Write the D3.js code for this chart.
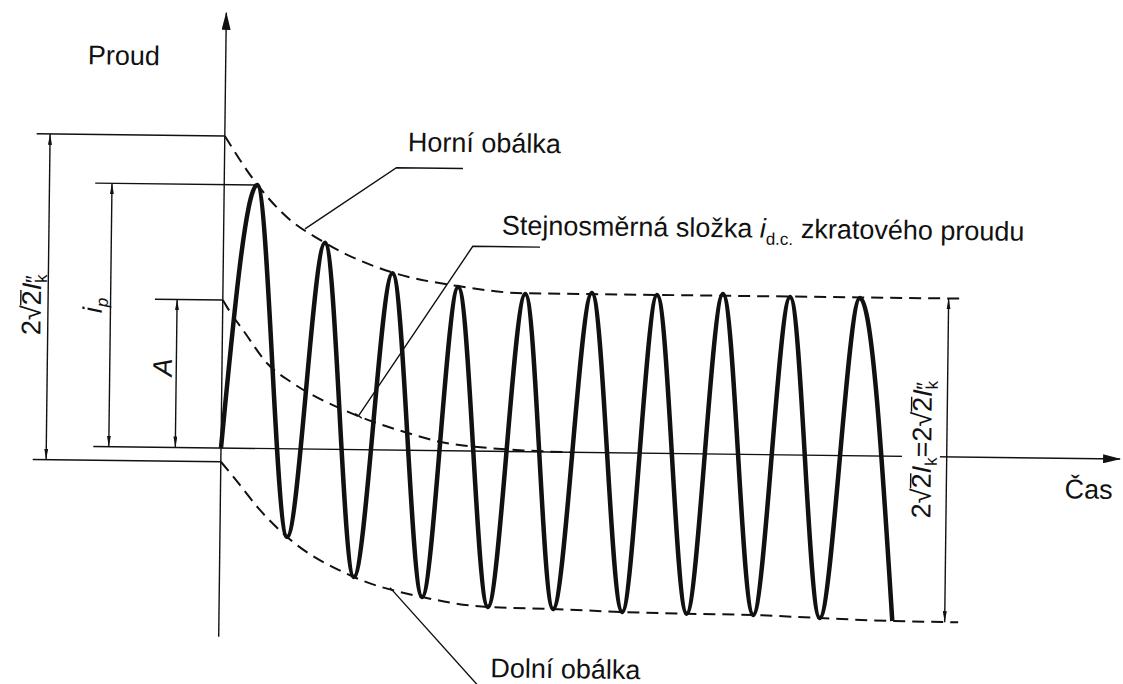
<!doctype html>
<html lang="cs">

<head>
    <meta charset="utf-8">
    <script src="https://d3js.org/d3.v7.min.js"></script>
    <style>
        body { margin: 0; background: #fff; }
        svg text { font-family: "Liberation Sans", Arial, sans-serif; fill: #111; font-size: 27px; }
    </style>
</head>

<body>
    <div id="chart"></div>
    <script>
        // time in periods of the a.c. component, current relative to the a.c. amplitude
        var waveT = [0, 0.49, 1.00, 1.51, 2.00, 2.52, 3.02, 3.50, 4.00, 4.50, 4.97, 5.49, 6.00, 6.46, 6.96, 7.44, 7.95, 8.44, 8.94, 9.48, 10.02];
        var waveV = [0, 1.646, -0.551, 1.291, -0.796, 1.105, -0.916, 1.024, -0.973, 0.986, -0.981, 0.997, -0.994, 0.989, -1.0, 1.0, -1.003, 0.987, -1.017, 0.986, -1.03];

        var upperT = [0, 0.49, 0.88, 1.51, 2.52, 3.50, 4.50, 5.49, 6.46, 7.44, 8.44, 9.48, 11.0];
        var upperV = [1.95, 1.65, 1.47, 1.29, 1.11, 1.03, 0.99, 0.99, 0.99, 0.99, 0.99, 0.99, 0.99];

        var lowerT = [0, 0.19, 0.59, 1.00, 2.00, 3.02, 4.00, 4.97, 6.00, 6.96, 7.95, 8.94, 10.02, 11.0];
        var lowerV = [-0.086, -0.179, -0.384, -0.551, -0.796, -0.916, -0.973, -0.981, -0.994, -1.0, -1.003, -1.017, -1.03, -1.033];

        // d.c. component
        var dcT = [0, 0.06, 0.34, 0.67, 1.06, 1.82, 2.27, 2.78, 3.27, 3.82, 4.5, 5.2];
        var dcV = [0.925, 0.884, 0.719, 0.533, 0.41, 0.247, 0.174, 0.108, 0.054, 0.026, 0.008, 0];

        // labels (pieces: italic, subscript shift, overline)
        var lblProud = "Proud";
        var lblCas = "Čas";
        var lblHorni = "Horní obálka";
        var lblDolni = "Dolní obálka";
        var lblDC = [{ t: "Stejnosměrná složka " }, { t: "i", it: true }, { t: "d.c.", size: 17, shift: 7 }, { t: " zkratového proudu" }];
        var lblIk0 = [{ t: "2√" }, { t: "2", over: true }, { t: "I", it: true }, { t: "k", size: 17, shift: 6 }, { t: "″", size: 22, dx: -9 }];
        var lblIp = [{ t: "i", it: true }, { t: "p", it: true, size: 17, shift: 6 }];
        var lblA = [{ t: "A", it: true }];
        var lblIk = [{ t: "2√" }, { t: "2", over: true }, { t: "I", it: true }, { t: "k", size: 17, shift: 6 }, { t: "=2√" },
            { t: "2", over: true }, { t: "I", it: true }, { t: "k", size: 17, shift: 6 }, { t: "″", size: 22, dx: -9 }];

        var W = 1123, H = 684;
        var svg = d3.select("#chart").append("svg").attr("width", W).attr("height", H);

        var defs = svg.append("defs");
        defs.append("marker").attr("id", "dim")
            .attr("viewBox", "0 0 11 4").attr("refX", 11).attr("refY", 2)
            .attr("markerWidth", 11).attr("markerHeight", 4)
            .attr("markerUnits", "userSpaceOnUse").attr("orient", "auto-start-reverse")
            .append("path").attr("d", "M0,0L11,2L0,4Z").attr("fill", "#111");
        defs.append("marker").attr("id", "ax")
            .attr("viewBox", "0 0 18 9").attr("refX", 17).attr("refY", 4.5)
            .attr("markerWidth", 18).attr("markerHeight", 9)
            .attr("markerUnits", "userSpaceOnUse").attr("orient", "auto")
            .append("path").attr("d", "M0,0L18,4.5L0,9Z").attr("fill", "#111");

        // the scanned figure is turned slightly
        var g = svg.append("g").attr("transform", "rotate(0.7,221,448)");

        var x = d3.scaleLinear().domain([0, 10]).range([221, 893]);
        var y = d3.scaleLinear().domain([0, 1]).range([448, 288]);

        function pts(ts, vs) { return ts.map(function (t, i) { return [t, vs[i]]; }); }
        var curve = d3.line().x(function (d) { return x(d[0]); }).y(function (d) { return y(d[1]); }).curve(d3.curveMonotoneX);
        var poly = d3.line().x(function (d) { return x(d[0]); }).y(function (d) { return y(d[1]); });

        var upperAt = d3.scaleLinear().domain(upperT).range(upperV);
        var lowerAt = d3.scaleLinear().domain(lowerT).range(lowerV);
        var dcAt = d3.scaleLinear().domain(dcT).range(dcV);

        function thin(sel) { return sel.attr("stroke", "#111").attr("stroke-width", 1.4).attr("fill", "none"); }
        function hline(t1, t2, v) {
            return thin(g.append("line").attr("x1", x(t1)).attr("x2", x(t2)).attr("y1", y(v)).attr("y2", y(v)));
        }
        function dimLine(t, v1, v2) {
            return thin(g.append("line").attr("x1", x(t)).attr("x2", x(t)).attr("y1", y(v1)).attr("y2", y(v2)))
                .attr("marker-start", "url(#dim)").attr("marker-end", "url(#dim)");
        }

        // axes
        thin(g.append("line").attr("x1", x(-1.9)).attr("x2", x(13.38)).attr("y1", y(0)).attr("y2", y(0)))
            .attr("marker-end", "url(#ax)");
        thin(g.append("line").attr("x1", x(0)).attr("x2", x(0)).attr("y1", y(-1.18)).attr("y2", y(2.72)))
            .attr("marker-end", "url(#ax)");

        // extension lines and dimensions
        hline(-2.8, 0, upperV[0]);
        hline(-2.8, 0, lowerV[0]);
        hline(-1.92, waveT[1], waveV[1]);
        hline(-1.01, 0, dcV[0]);
        dimLine(-2.6, upperV[0], lowerV[0]);
        dimLine(-1.67, waveV[1], 0);
        dimLine(-0.68, dcV[0], 0);
        dimLine(10.8, upperV[upperV.length - 1], lowerV[lowerV.length - 1]);

        // envelopes and d.c. component
        [pts(upperT, upperV), pts(lowerT, lowerV), pts(dcT, dcV)].forEach(function (p) {
            g.append("path").datum(p).attr("d", curve)
                .attr("fill", "none").attr("stroke", "#111").attr("stroke-width", 2)
                .attr("stroke-dasharray", "12,7");
        });

        // current
        g.append("path").datum(pts(waveT, waveV)).attr("d", curve)
            .attr("fill", "none").attr("stroke", "#111").attr("stroke-width", 4.5)
            .attr("stroke-linejoin", "round");

        // leader lines
        thin(g.append("path").datum([[1.21, upperAt(1.21)], [2.56, 1.765], [3.55, 1.765]]).attr("d", poly));
        thin(g.append("path").datum([[2.04, dcAt(2.04)], [3.71, 1.28], [4.71, 1.28]]).attr("d", poly));
        thin(g.append("path").datum([[2.54, lowerAt(2.54)], [3.9, -1.48]]).attr("d", poly));
        // small tick at the end of the d.c. leader
        (function () {
            var ax = x(2.04), ay = y(dcAt(2.04)), bx = x(3.71), by = y(1.28);
            var len = Math.hypot(bx - ax, by - ay), nx = -(by - ay) / len * 4, ny = (bx - ax) / len * 4;
            thin(g.append("line").attr("x1", ax - nx).attr("y1", ay - ny).attr("x2", ax + nx).attr("y2", ay + ny));
        })();

        function rich(text, parts) {
            var cur = 0;
            parts.forEach(function (p) {
                var s = p.shift || 0;
                var ts = text.append("tspan").text(p.t);
                if (s !== cur) { ts.attr("dy", s - cur); cur = s; }
                if (p.dx) ts.attr("dx", p.dx);
                if (p.size) ts.attr("font-size", p.size);
                if (p.it) ts.attr("font-style", "italic");
                if (p.over) ts.classed("over", true);
            });
            text.selectAll("tspan.over").each(function () {
                var a = this.getStartPositionOfChar(0), b = this.getEndPositionOfChar(0);
                thin(d3.select(text.node().parentNode).append("line")
                    .attr("x1", a.x).attr("x2", b.x).attr("y1", a.y - 20).attr("y2", a.y - 20));
            });
            return text;
        }

        function rotLabel(cx, cy, parts, knockout) {
            var lg = g.append("g").attr("transform", "translate(" + cx + "," + cy + ") rotate(-90)");
            var t = lg.append("text").attr("text-anchor", "middle");
            rich(t, parts);
            if (knockout) {
                var bb = t.node().getBBox();
                lg.insert("rect", "text").attr("x", bb.x - 3).attr("width", bb.width + 6)
                    .attr("y", -29).attr("height", bb.y + bb.height + 29 - 1).attr("fill", "#fff");
            }
            return t;
        }

        g.append("text").attr("x", 83).attr("y", 66).text(lblProud);
        g.append("text").attr("x", 1065).attr("y", 488).text(lblCas);
        g.append("text").attr("x", 404).attr("y", 149).text(lblHorni);
        g.append("text").attr("x", 493).attr("y", 674).text(lblDolni);
        rich(g.append("text").attr("x", 499).attr("y", 231), lblDC);

        rotLabel(39, 307, lblIk0);
        rotLabel(100, 307, lblIp);
        rotLabel(171, 368, lblA);
        rotLabel(931, 441, lblIk, true);
    </script>
</body>

</html>
